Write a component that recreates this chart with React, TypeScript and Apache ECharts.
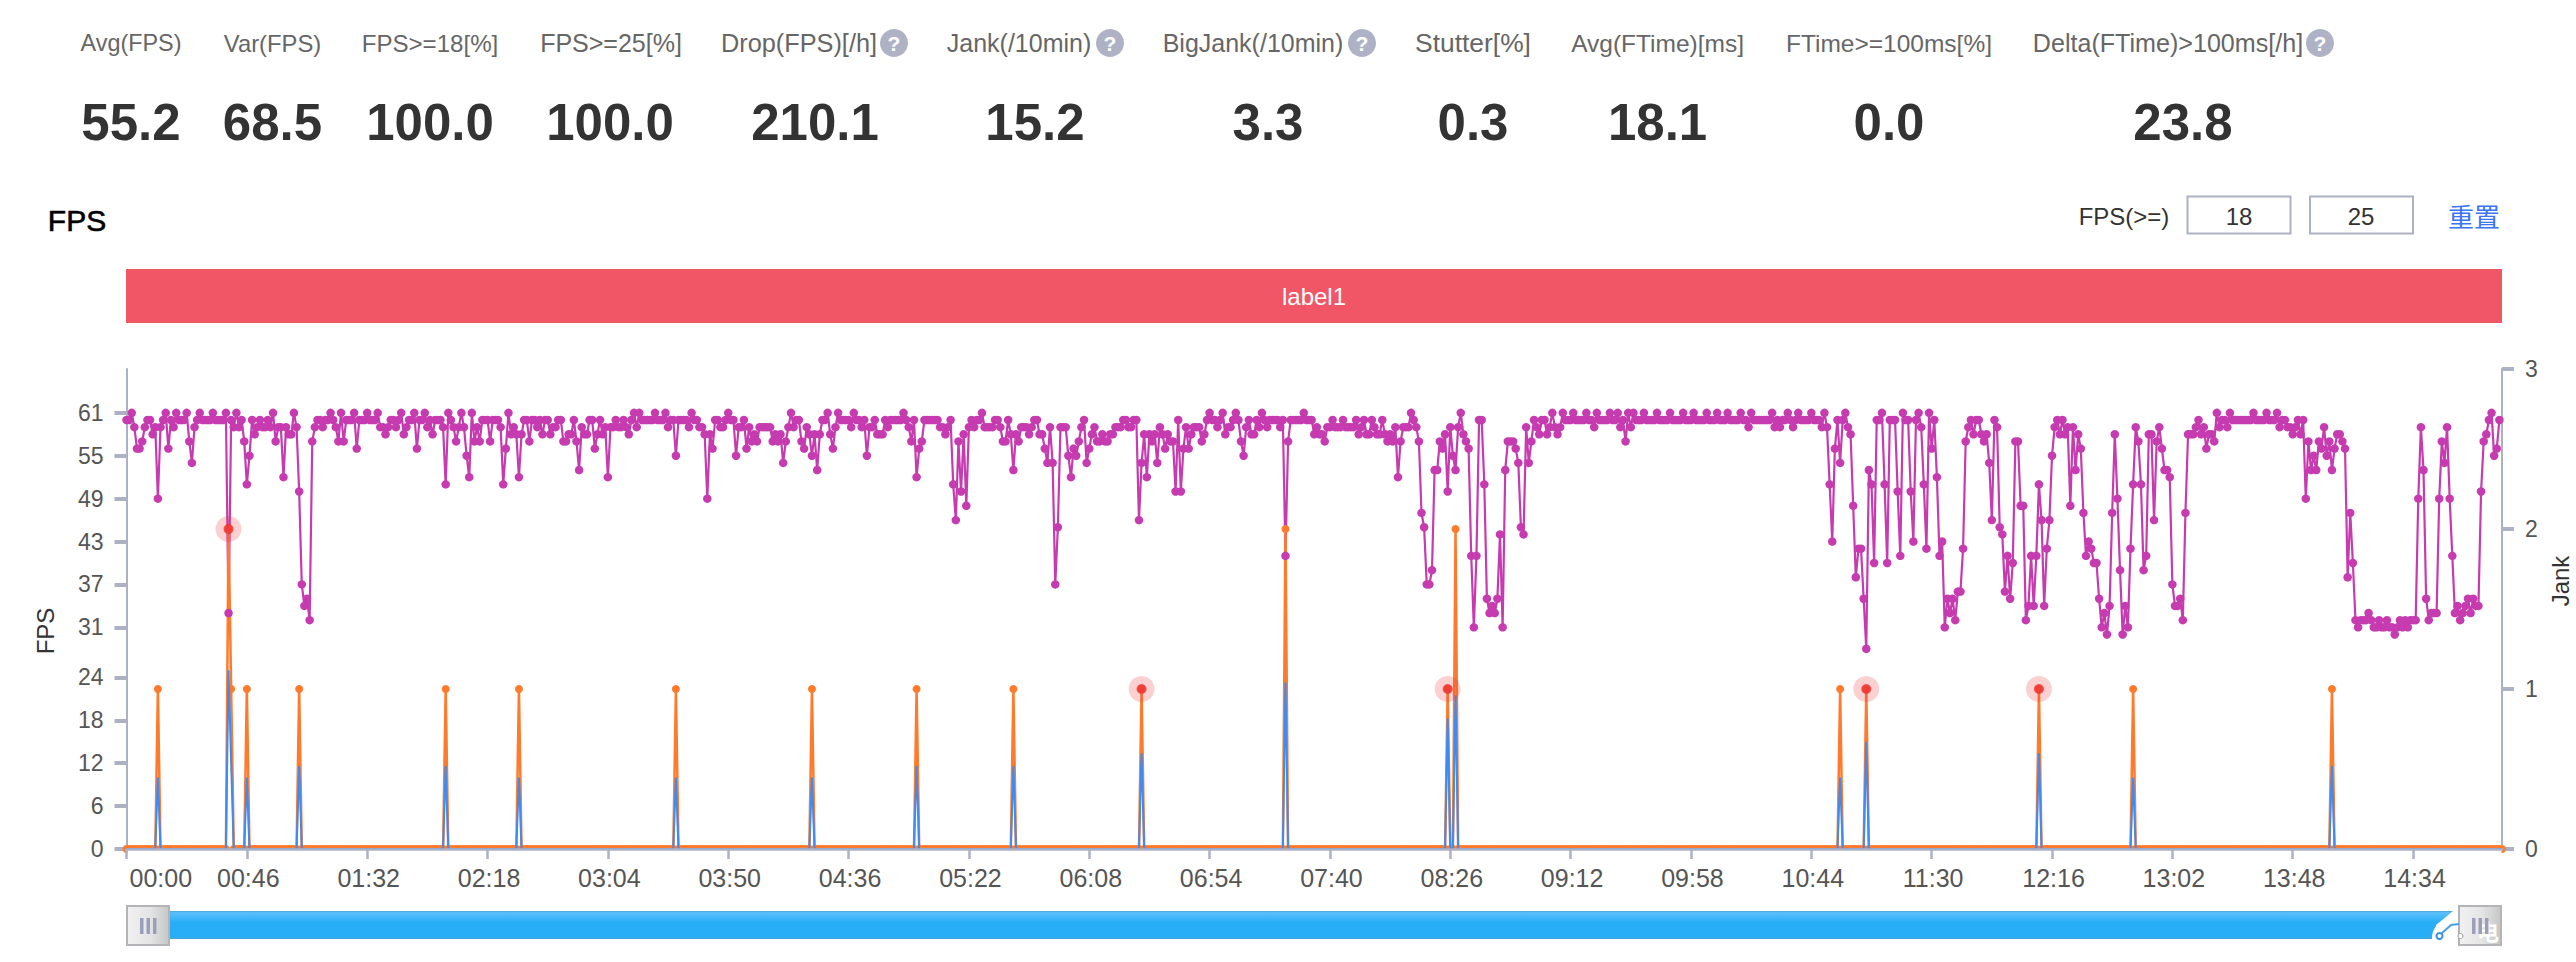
import React, { useEffect, useRef } from "react";
import * as echarts from "echarts";

const kpiLabels = ["Avg(FPS)", "Var(FPS)", "FPS>=18[%]", "FPS>=25[%]", "Drop(FPS)[/h]", "Jank(/10min)", "BigJank(/10min)", "Stutter[%]", "Avg(FTime)[ms]", "FTime>=100ms[%]", "Delta(FTime)>100ms[/h]"];
const kpiValues = ["55.2", "68.5", "100.0", "100.0", "210.1", "15.2", "3.3", "0.3", "18.1", "0.0", "23.8"];

const fps = [
  60,60,61,59,56,56,57,59,60,60, 58,59,49,59,60,61,56,60,59,61,
  60,60,60,61,57,54,59,60,61,60, 60,60,60,61,60,60,60,60,61,33,
  60,59,61,59,60,57,51,55,60,58, 59,60,59,59,60,59,61,57,59,59,
  52,59,58,58,61,59,50,37,34,35, 32,57,59,60,60,59,60,60,61,60,
  59,57,61,57,60,60,60,61,56,60, 60,60,61,60,60,60,61,59,59,58,
  59,60,60,59,60,61,58,59,60,60, 61,56,60,60,61,59,60,58,60,60,
  60,59,51,61,60,59,57,59,61,59, 55,52,61,57,59,57,60,60,60,57,
  60,60,60,59,51,56,61,58,59,58, 52,58,60,60,57,60,60,59,60,58,
  60,60,58,59,59,60,60,57,57,58, 58,60,57,53,59,58,58,60,60,56,
  58,60,58,59,52,59,59,60,59,59, 60,59,58,60,61,59,61,60,60,60,
  60,60,61,60,60,60,61,59,60,60, 55,60,60,60,60,59,61,60,60,59,
  59,58,49,58,56,60,60,59,59,60, 61,60,60,55,59,59,60,56,59,57,
  58,57,59,59,59,59,59,57,58,57, 58,54,57,59,61,59,60,60,57,56,
  59,58,55,58,53,58,60,60,61,58, 56,59,61,60,60,60,60,59,61,60,
  60,59,60,55,59,59,60,58,58,58, 60,59,60,60,60,60,60,61,60,59,
  57,60,52,56,57,60,60,60,60,60, 60,59,59,58,59,60,51,46,57,50,
  58,48,59,60,59,60,60,61,59,59, 59,59,60,60,59,57,57,60,58,53,
  58,57,59,59,59,58,59,60,60,58, 58,56,54,59,54,37,45,59,59,59,
  55,52,56,55,57,59,60,54,56,58, 59,57,57,58,57,57,58,58,59,59,
  59,60,60,59,59,60,60,46,54,58, 52,58,57,58,54,59,58,56,58,57,
  57,50,60,50,56,59,56,58,59,59, 59,57,58,60,61,60,60,59,60,61,
  58,59,59,60,61,60,57,55,59,60, 58,58,60,59,61,60,59,60,60,60,
  60,59,60,41,57,60,60,60,60,60, 61,60,60,60,58,59,58,58,57,59,
  59,60,59,59,59,60,59,59,59,59, 60,58,59,60,58,58,60,59,58,58,
  60,58,57,58,57,59,52,57,59,59, 59,61,60,59,57,47,45,37,37,39,
  53,53,57,56,58,50,59,55,53,59, 61,58,57,56,41,31,41,60,60,51,
  35,33,34,33,35,44,31,53,57,57, 57,56,54,45,44,59,54,57,60,59,
  58,60,60,58,59,61,59,58,59,61, 60,60,60,61,60,60,60,60,61,60,
  60,59,61,60,60,60,60,61,60,60, 61,59,60,57,61,59,61,60,60,60,
  61,60,60,60,60,61,60,60,60,60, 61,60,60,60,60,61,60,60,60,61,
  60,60,60,60,61,60,60,60,61,60, 60,60,61,60,60,60,60,61,60,60,
  59,61,60,60,60,60,60,60,60,61, 59,60,59,60,60,61,60,59,60,61,
  60,60,60,60,61,60,60,60,59,61, 59,51,43,56,60,54,60,61,59,58,
  48,38,42,42,35,28,53,51,40,60, 60,61,51,40,60,60,60,50,41,61,
  60,60,50,43,60,61,59,51,42,61, 56,60,52,41,43,31,35,33,35,32,
  36,36,42,57,59,60,58,60,60,58, 57,58,54,46,60,59,45,44,36,41,
  35,40,57,57,48,48,32,34,41,34, 41,51,46,34,42,46,55,59,60,58,
  60,58,59,48,59,53,58,56,47,41, 43,42,40,40,35,31,33,30,34,47,
  58,49,39,30,34,31,42,51,59,57, 51,39,41,58,58,46,57,59,56,53,
  53,52,37,34,34,35,32,47,58,58, 58,59,60,58,59,56,58,58,57,61,
  59,60,60,59,61,60,60,60,60,60, 60,60,60,61,60,60,60,60,61,60,
  60,60,61,59,60,60,59,59,58,59, 60,58,60,49,57,53,55,53,57,56,
  59,55,57,53,56,58,58,57,56,38, 47,40,32,31,32,32,32,33,32,31,
  31,32,31,31,32,31,31,30,31,32, 31,32,31,32,32,32,49,59,53,35,
  32,33,33,33,49,57,54,59,49,41, 33,34,32,33,34,35,33,35,34,34,
  50,57,58,60,61,55,56,60,
];

const jankIndex = [12, 39, 40, 46, 66, 122, 150, 210, 262, 302, 339, 388, 443, 505, 508, 655, 665, 731, 767, 843];
const jankValue = [1, 2, 1, 1, 1, 1, 1, 1, 1, 1, 1, 1, 2, 1, 2, 1, 1, 1, 1, 1];
const frameSpike = [10, 25, 12, 10, 11.6, 11.6, 10, 10, 10, 11.6, 11.6, 13.4, 23.3, 18.3, 21.5, 10, 15, 13.4, 10, 11.6];
const alertIndex = [39, 388, 505, 665, 731];

const tickLabels = ["00:00", "00:46", "01:32", "02:18", "03:04", "03:50", "04:36", "05:22", "06:08", "06:54", "07:40", "08:26", "09:12", "09:58", "10:44", "11:30", "12:16", "13:02", "13:48", "14:34"];
const leftTicks = [0, 6, 12, 18, 24, 31, 37, 43, 49, 55, 61];

const pointCount = fps.length + 1;
const categories = Array.from({ length: pointCount }, (_, i) => tickLabels[i / 46] ?? "");
const spikeLine = (values: number[]) => {
  const out = new Array(pointCount).fill(0);
  jankIndex.forEach((idx, k) => { out[idx] = values[k]; });
  return out;
};
const jank = spikeLine(jankValue);
const frame = spikeLine(frameSpike);
const alerts = alertIndex.map((i) => [i, jank[i]]);

const FONT = '"Liberation Sans", Arial, sans-serif';
const AXIS = "#adb1c4";
const kpiCenter = [131, 272.5, 430, 611, 799, 1019, 1253, 1473, 1657.6, 1889, 2168];
const kpiSize = [23.4, 23.8, 24.1, 25, 25.3, 25, 25, 26.4, 24.5, 24.5, 25.1];
const kpiValueCenter = [131, 272.5, 430, 610, 815, 1035, 1268, 1473, 1657.6, 1889, 2183];
const helpIcon = [894, 1110, 1362, 2320];

const txt = (text: string, x: number, y: number, fontSize: number, fill: string, extra: any = {}) => ({
  type: "text", z: 6,
  style: { text, x, y, fontSize, fontFamily: FONT, fill, textAlign: "center", textVerticalAlign: "middle", ...extra },
});

const handle = (x: number, y: number, w: number, h: number) => ({
  type: "group",
  z: 6,
  children: [
    { type: "rect", shape: { x, y, width: w, height: h }, z: 6,
      style: { fill: new echarts.graphic.LinearGradient(0, 0, 1, 0, [{ offset: 0, color: "#f1f1f1" }, { offset: 0.55, color: "#e4e4e4" }, { offset: 1, color: "#c6c6c6" }]), stroke: "#b4b4b8", lineWidth: 2 } },
    ...[0, 1, 2].map((k) => ({ type: "rect", z: 7, shape: { x: x + 13 + k * 6.5, y: y + 12, width: 3.5, height: 16 }, style: { fill: "#9aa0bb" } })),
  ],
});

const graphics: any[] = [
  ...kpiLabels.map((t, i) => txt(t, kpiCenter[i], 43, kpiSize[i], "#666")),
  ...kpiValues.map((t, i) => txt(t, kpiValueCenter[i], 122, 51, "#333", { fontWeight: "bold" })),
  ...helpIcon.flatMap((x) => [
    { type: "circle", z: 6, shape: { cx: x, cy: 43, r: 14 }, style: { fill: "#aeb2c4" } },
    txt("?", x, 43, 21, "#fff", { fontWeight: "bold" }),
  ]),
  txt("FPS", 77, 220, 30, "#000", { stroke: "#000", lineWidth: 0.6 }),
  txt("FPS(>=)", 2124, 216, 24, "#333"),
  { type: "rect", z: 6, shape: { x: 2187.5, y: 196.5, width: 103, height: 37 }, style: { fill: "#fff", stroke: AXIS, lineWidth: 2 } },
  { type: "rect", z: 6, shape: { x: 2310, y: 196.5, width: 103, height: 37 }, style: { fill: "#fff", stroke: AXIS, lineWidth: 2 } },
  txt("18", 2239, 216, 24, "#333"),
  txt("25", 2361, 216, 24, "#333"),
  txt("重置", 2474, 215, 26, "#3b74f5", { fontFamily: '"Noto Sans CJK SC", sans-serif' }),
  { type: "rect", z: 6, shape: { x: 126, y: 269, width: 2376, height: 54 }, style: { fill: "#f05665" } },
  txt("label1", 1314, 296, 24, "#fff"),
  // strip that keeps the zero-line markers above the offset x axis
  { type: "rect", z: 4, shape: { x: 127.5, y: 850, width: 2374, height: 5 }, style: { fill: "#fff" } },
  // slider
  { type: "rect", z: 5, shape: { x: 160, y: 911, width: 2310, height: 28 },
    style: { fill: new echarts.graphic.LinearGradient(0, 0, 0, 1, [
      { offset: 0, color: "#4f9fda" }, { offset: 0.06, color: "#5cc0fb" }, { offset: 0.4, color: "#28aef7" }, { offset: 0.93, color: "#28aef7" }, { offset: 1, color: "#4d9ed6" }]) } },
  handle(127, 906, 42, 39),
  // corner watermark
  { type: "circle", z: 6, shape: { cx: 2451, cy: 938, r: 19 }, style: { fill: "#fff" } },
  { type: "polygon", z: 6, shape: { points: [[2436, 925], [2458, 907], [2462, 945], [2440, 950]] }, style: { fill: "#fff" } },
  handle(2459, 906, 42, 39),
  { type: "polyline", z: 8, shape: { points: [[2441, 934], [2451, 925], [2459, 924]] }, style: { stroke: "#4a9fe8", lineWidth: 2, fill: "none" } },
  { type: "circle", z: 8, shape: { cx: 2439.5, cy: 936, r: 3 }, style: { fill: "#fff", stroke: "#3b8fdc", lineWidth: 2 } },
  { type: "circle", z: 8, shape: { cx: 2460.5, cy: 936, r: 2.5 }, style: { fill: "#fff", stroke: "#999", lineWidth: 1 } },
  txt("电", 2488, 930, 22, "#fff", { fontFamily: '"Noto Sans CJK SC", sans-serif', fontWeight: "bold" }),
];

const lineBase = { type: "line", showSymbol: true, showAllSymbol: true, symbol: "circle", silent: true };

export default function App() {
  const ref = useRef<HTMLDivElement>(null);
  useEffect(() => {
    if (!ref.current) return;
    const chart = echarts.init(ref.current, undefined, { renderer: "svg" });
    chart.setOption({
      animation: false,
      backgroundColor: "#fff",
      textStyle: { fontFamily: FONT },
      grid: { left: 126.5, right: 74, top: 369, bottom: 113, outerBoundsMode: "none" },
      xAxis: {
        type: "category", boundaryGap: false, data: categories, offset: 2.7, z: 5,
        axisLine: { lineStyle: { color: AXIS, width: 2.5 } },
        axisTick: { alignWithLabel: true, interval: 45, length: 10, lineStyle: { color: AXIS, width: 2.5 } },
        axisLabel: { interval: 45, alignMinLabel: "left", margin: 14, padding: [0, 0, 0, 3], color: "#555", fontSize: 25, fontFamily: FONT },
        splitLine: { show: false },
      },
      yAxis: [
        {
          type: "value", min: 0, max: 67.13, name: "FPS", nameLocation: "middle", nameGap: 69,
          nameTextStyle: { color: "#333", fontSize: 24, fontFamily: FONT, padding: [0, 44, 0, 0] },
          axisLine: { show: true, lineStyle: { color: AXIS, width: 2 } },
          axisTick: { show: true, customValues: leftTicks, length: 12, lineStyle: { color: AXIS, width: 4 } },
          axisLabel: { customValues: leftTicks, margin: 23, color: "#555", fontSize: 23, fontFamily: FONT },
          splitLine: { show: false },
        },
        {
          type: "value", min: 0, max: 3, interval: 1, name: "Jank", position: "right", nameLocation: "middle", nameGap: 46,
          nameTextStyle: { color: "#333", fontSize: 24, fontFamily: FONT, padding: [0, 0, 0, 56] },
          axisLine: { show: true, lineStyle: { color: AXIS, width: 2 } },
          axisTick: { show: true, length: 12, lineStyle: { color: AXIS, width: 4 } },
          axisLabel: { margin: 23, color: "#555", fontSize: 23, fontFamily: FONT },
          splitLine: { show: false },
        },
      ],
      graphic: graphics,
      series: [
        { ...lineBase, name: "FPS", yAxisIndex: 0, z: 2, data: fps, symbolSize: 8.5, itemStyle: { color: "#c63bb0" }, lineStyle: { color: "#c63bb0", width: 2.2 } },
        { ...lineBase, name: "Jank", yAxisIndex: 1, z: 2, data: jank, symbolSize: 8, itemStyle: { color: "#ff7a2b" }, lineStyle: { color: "#ff7a2b", width: 2.5 } },
        { ...lineBase, name: "FTime", yAxisIndex: 0, z: 3, data: frame, showSymbol: false, symbol: "none", itemStyle: { color: "#3d8bf7" }, lineStyle: { color: "#3d8bf7", width: 2 } },
        { type: "scatter", name: "alertHalo", yAxisIndex: 1, z: 4, data: alerts, symbolSize: 26, silent: true, itemStyle: { color: "rgba(234,60,60,0.3)" } },
        { type: "scatter", name: "alert", yAxisIndex: 1, z: 4, data: alerts, symbolSize: 10, silent: true, itemStyle: { color: "#ee3333" } },
      ],
    });
    return () => chart.dispose();
  }, []);
  return <div ref={ref} style={{ position: "absolute", left: 0, top: 0, width: 2576, height: 962 }} />;
}
